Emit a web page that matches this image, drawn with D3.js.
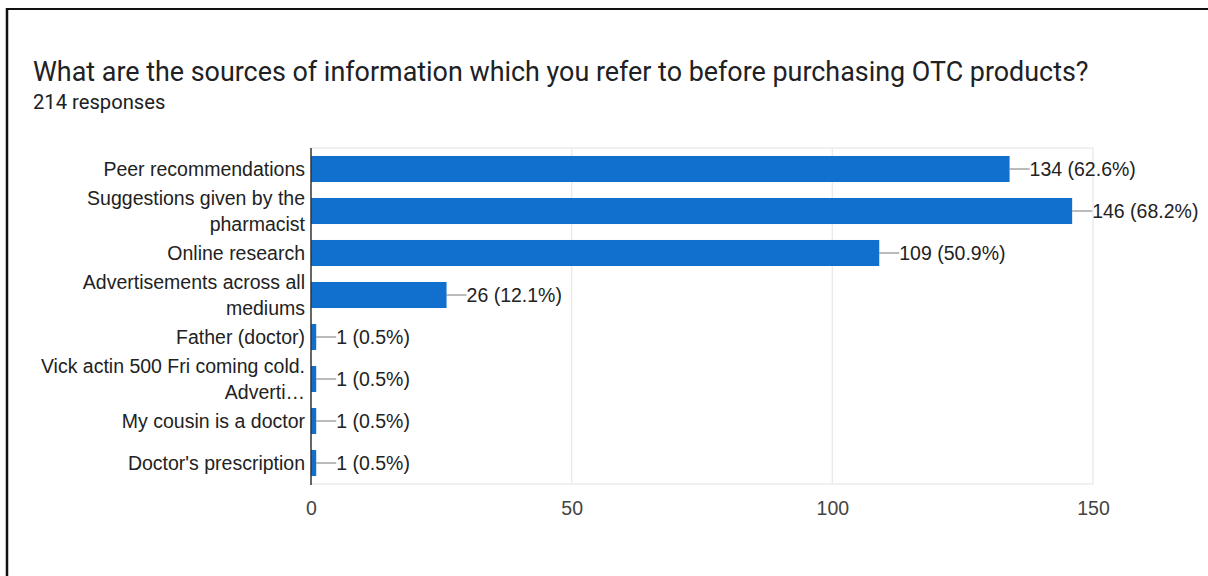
<!DOCTYPE html>
<html>
<head>
<meta charset="utf-8">
<script src="https://cdn.jsdelivr.net/npm/d3@7"></script>
<style>
  html, body { margin: 0; padding: 0; background: #fff; }
  svg { display: block; }
</style>
</head>
<body>
<svg id="chart" width="1208" height="576"></svg>
<script>
// Survey question and response counts
const title = "What are the sources of information which you refer to before purchasing OTC products?";
const subtitle = "214 responses";
const totalResponses = 214;

const categories = [
  "Peer recommendations",
  "Suggestions given by the\npharmacist",
  "Online research",
  "Advertisements across all\nmediums",
  "Father (doctor)",
  "Vick actin 500 Fri coming cold.\nAdverti\u2026",
  "My cousin is a doctor",
  "Doctor's prescription"
];
const counts = [134, 146, 109, 26, 1, 1, 1, 1];
const percents = ["62.6%", "68.2%", "50.9%", "12.1%", "0.5%", "0.5%", "0.5%", "0.5%"];
const xTicks = [0, 50, 100, 150];

const svg = d3.select("#chart");
const W = 1208, H = 576;

// Frame lines along the top and left edges
svg.append("line").attr("x1", 7).attr("x2", W).attr("y1", 9).attr("y2", 9)
  .attr("stroke", "#111").attr("stroke-width", 2);
svg.append("line").attr("x1", 7).attr("x2", 7).attr("y1", 8).attr("y2", H)
  .attr("stroke", "#111").attr("stroke-width", 2.5);

// Heading
svg.append("text").attr("x", 33).attr("y", 81)
  .attr("font-family", "Roboto, Arial, sans-serif").attr("font-size", 26.9)
  .attr("fill", "#202124").text(title);
svg.append("text").attr("x", 33).attr("y", 109)
  .attr("font-family", "Roboto, Arial, sans-serif").attr("font-size", 20.2)
  .attr("fill", "#202124").text(subtitle);

const plotTop = 148, plotBottom = 484;
const x = d3.scaleLinear().domain([0, 150]).range([311, 1093]);
const y = d3.scaleBand().domain(categories).range([plotTop, plotBottom])
  .paddingInner(0.38).paddingOuter(0.19);

const font = "'Liberation Sans', Arial, sans-serif";
const fs = 19.5;

// Vertical gridlines
svg.append("g").selectAll("line").data(xTicks.filter(d => d > 0)).join("line")
  .attr("x1", d => x(d)).attr("x2", d => x(d))
  .attr("y1", plotTop).attr("y2", plotBottom)
  .attr("stroke", "#ebebeb").attr("stroke-width", 1.5);
// Top and bottom edges of the plot area
[plotTop, plotBottom].forEach(yy => {
  svg.append("line").attr("x1", x(0)).attr("x2", x(150))
    .attr("y1", yy).attr("y2", yy)
    .attr("stroke", "#ebebeb").attr("stroke-width", 1.5);
});

// Bars
svg.append("g").selectAll("rect").data(categories).join("rect")
  .attr("x", x(0))
  .attr("y", d => y(d))
  .attr("width", (d, i) => x(counts[i]) - x(0))
  .attr("height", y.bandwidth())
  .attr("fill", "#1170cd");

// Leader lines and value labels
const vals = svg.append("g");
categories.forEach((c, i) => {
  const cy = y(c) + y.bandwidth() / 2;
  const x1 = x(counts[i]);
  vals.append("line").attr("x1", x1).attr("x2", x1 + 20)
    .attr("y1", cy).attr("y2", cy).attr("stroke", "#777").attr("stroke-width", 1);
  vals.append("text").attr("x", x1 + 20).attr("y", cy)
    .attr("dy", "0.36em")
    .attr("font-family", font).attr("font-size", fs).attr("fill", "#222")
    .text(`${counts[i]} (${percents[i]})`);
});

// Category labels (may span two lines)
const lineGap = 26.5;
const labels = svg.append("g");
categories.forEach(c => {
  const lines = c.split("\n");
  const cy = y(c) + y.bandwidth() / 2;
  const t = labels.append("text")
    .attr("text-anchor", "end")
    .attr("font-family", font).attr("font-size", fs).attr("fill", "#222");
  lines.forEach((ln, k) => {
    t.append("tspan").attr("x", 305)
      .attr("y", cy + (k - (lines.length - 1) / 2) * lineGap)
      .attr("dy", "0.36em").text(ln);
  });
});

// Zero axis line
svg.append("line").attr("x1", x(0)).attr("x2", x(0))
  .attr("y1", plotTop).attr("y2", plotBottom + 1)
  .attr("stroke", "#333").attr("stroke-width", 1.5);

// X axis tick labels
const xAxis = d3.axisBottom(x).tickValues(xTicks).tickSize(0).tickPadding(0);
const gx = svg.append("g").attr("transform", `translate(0, ${plotBottom + 17})`).call(xAxis);
gx.select(".domain").remove();
gx.selectAll("text").attr("font-family", font).attr("font-size", fs)
  .attr("fill", "#444").attr("dy", "0.71em");
</script>
</body>
</html>
